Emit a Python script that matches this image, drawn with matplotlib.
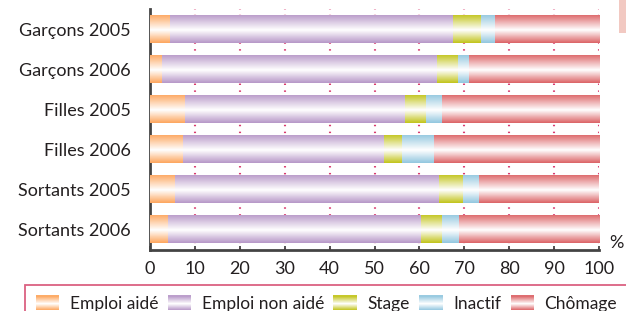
import numpy as np
import matplotlib.pyplot as plt
from matplotlib.colors import LinearSegmentedColormap, to_rgb
from matplotlib.patches import Patch, Rectangle
from matplotlib.legend_handler import HandlerBase

# data (% per row)
groups = ['Garçons 2005', 'Garçons 2006', 'Filles 2005', 'Filles 2006',
          'Sortants 2005', 'Sortants 2006']
emploi_aide = [4.4, 2.6, 7.8, 7.3, 5.6, 3.9]
emploi_non_aide = [63.1, 61.3, 49.1, 44.8, 58.8, 56.5]
stage = [6.2, 4.6, 4.5, 4.0, 5.4, 4.6]
inactif = [3.1, 2.5, 3.6, 7.1, 3.5, 3.8]
chomage = [23.2, 29.0, 35.0, 36.8, 26.7, 31.2]

series_names = ['Emploi aidé', 'Emploi non aidé', 'Stage', 'Inactif', 'Chômage']
series = [emploi_aide, emploi_non_aide, stage, inactif, chomage]
colors = ['#fda65e', '#b798c8', '#c2c41c', '#93c7df', '#dc6467']

plt.rcParams['font.family'] = ['Lato', 'DejaVu Sans']
TXT = '#231f20'


def gradient_cmap(c):
    r, g, b = to_rgb(c)
    return LinearSegmentedColormap.from_list(
        'g', [(0, (r, g, b)), (0.45, (1, 1, 1)), (1, (r, g, b))])


class GradientHandler(HandlerBase):
    # legend swatch drawn as horizontal stripes, colour -> white -> colour
    def create_artists(self, legend, orig_handle, xdescent, ydescent,
                       width, height, fontsize, trans):
        cmap = gradient_cmap(orig_handle.get_facecolor())
        n = 14
        out = []
        for i in range(n):
            out.append(Rectangle((-xdescent, -ydescent + i * height / n),
                                 width, height / n + 0.3,
                                 facecolor=cmap((i + 0.5) / n),
                                 edgecolor='none', transform=trans))
        return out


fig = plt.figure(figsize=(6.26, 3.11), dpi=100)
ax = fig.add_axes([150 / 626, 61.5 / 311, 449 / 626, 240.5 / 311])

grad = np.linspace(0, 1, 64).reshape(-1, 1)
y = np.arange(len(groups))
left = np.zeros(len(groups))
for name, vals, col in zip(series_names, series, colors):
    bars = ax.barh(y, vals, left=left, height=0.7, color=col,
                   edgecolor='none', zorder=2)
    cmap = gradient_cmap(col)
    for bar in bars:
        x0, y0 = bar.get_x(), bar.get_y()
        w, h = bar.get_width(), bar.get_height()
        im = ax.imshow(grad, cmap=cmap, aspect='auto', origin='lower',
                       extent=(x0, x0 + w, y0 + h, y0), zorder=3,
                       interpolation='bilinear')
        im.set_clip_path(bar)
    left += np.array(vals)

ax.set_xlim(0, 100)
ax.set_ylim(5.5, -0.5)
ax.set_yticks(y)
ax.set_yticklabels(groups, fontsize=13, color=TXT)
ax.set_xticks(np.arange(0, 101, 10))
ax.tick_params(axis='x', labelsize=13, direction='in', length=3,
               width=1.2, colors='#333333', pad=8)
ax.tick_params(axis='x', labelcolor=TXT)
ax.tick_params(axis='y', length=0, pad=14)
ax.xaxis.grid(True, color='#d83a6e', linestyle=(0, (0.7, 2.6)), linewidth=1.5)
ax.set_axisbelow(True)
for s in ['top', 'right']:
    ax.spines[s].set_visible(False)
for s in ['left', 'bottom']:
    ax.spines[s].set_linewidth(2)
    ax.spines[s].set_color('#444444')

fig.text(616 / 626, 1 - 243 / 311, '%', fontsize=13, ha='center',
         va='center', color=TXT)

# pink page decoration at top right
fig.patches.append(Rectangle((619 / 626, 1 - 33 / 311), 7 / 626, 33 / 311,
                             transform=fig.transFigure, facecolor='#f2c9c2',
                             edgecolor='none'))

handles = [Patch(facecolor=c, edgecolor='none') for c in colors]
leg = fig.legend(handles, series_names, loc='upper left', ncol=5,
                 bbox_to_anchor=(25 / 626, 1 - 285 / 311), borderaxespad=0,
                 frameon=True, fancybox=False, fontsize=12.5,
                 handlelength=1.35, handleheight=0.9, columnspacing=0.55,
                 handletextpad=0.6, borderpad=0.62,
                 handler_map={Patch: GradientHandler()})
for t in leg.get_texts():
    t.set_color(TXT)
leg.get_frame().set_edgecolor('#d23a62')
leg.get_frame().set_linewidth(1.3)

fig.savefig('out.png', dpi=100)
